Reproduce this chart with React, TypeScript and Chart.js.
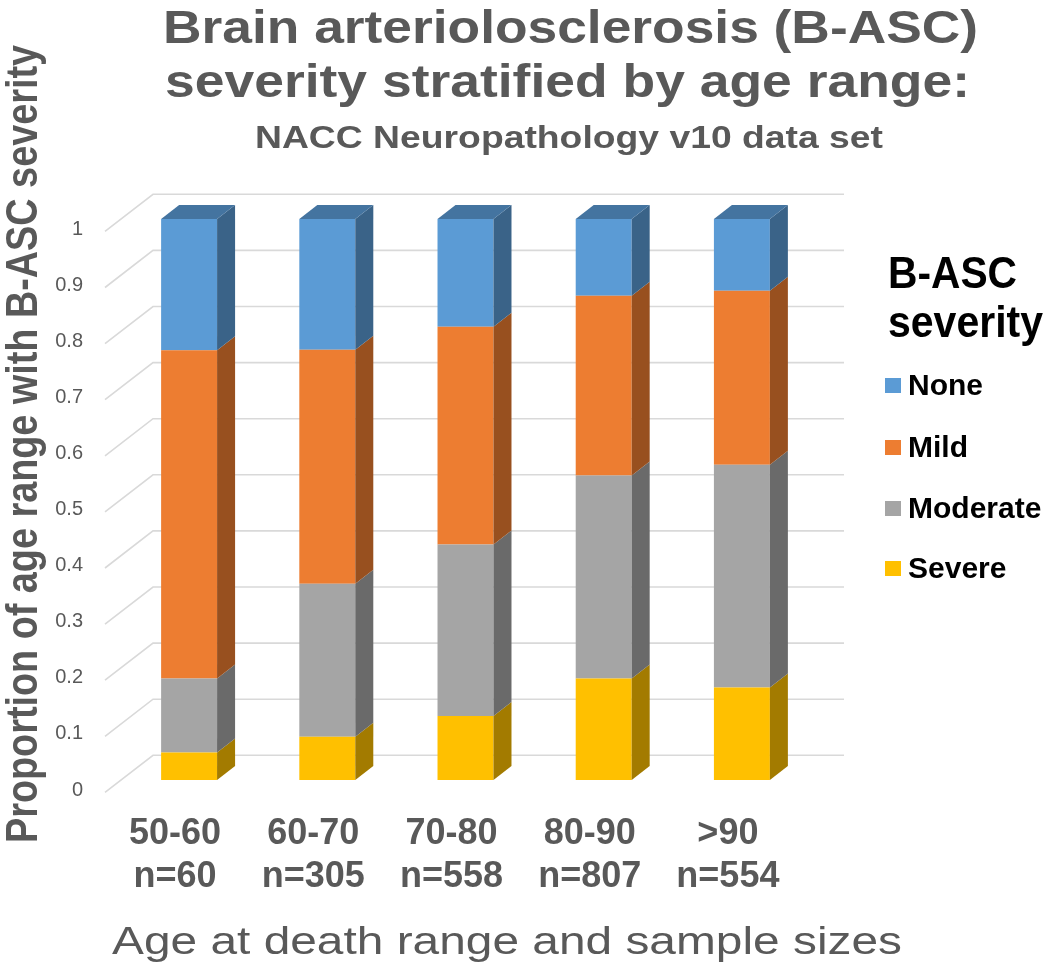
import React, { useEffect, useRef } from "react";
import { Chart, registerables } from "chart.js";

Chart.register(...registerables);

// ---------- data ----------
const ageRanges = ["50-60", "60-70", "70-80", "80-90", ">90"];
const sampleSizes = [60, 305, 558, 807, 554];
const severeValues = [0.049, 0.077, 0.114, 0.181, 0.165];
const moderateValues = [0.132, 0.273, 0.306, 0.362, 0.397];
const mildValues = [0.585, 0.417, 0.388, 0.32, 0.31];
const noneValues = [0.234, 0.233, 0.192, 0.137, 0.128];
const seriesNames = ["Severe", "Moderate", "Mild", "None"];
const yTickValues = [0, 0.1, 0.2, 0.3, 0.4, 0.5, 0.6, 0.7, 0.8, 0.9, 1];

const titleLines = [
  "Brain arteriolosclerosis (B-ASC)",
  "severity stratified by age range:",
  "NACC Neuropathology v10 data set",
];
const yAxisTitle = "Proportion of age range with B-ASC severity";
const xAxisTitle = "Age at death range and sample sizes";
const legendTitle = ["B-ASC", "severity"];

// ---------- styles ----------
const seriesColors = ["#FFC000", "#A5A5A5", "#ED7D31", "#5B9BD5"];
const TEXT_GREY = "#595959";
const FONT = "'Liberation Sans', Arial, sans-serif";

function shade(hex: string, f: number) {
  const n = parseInt(hex.slice(1), 16);
  const r = Math.round(((n >> 16) & 255) * f);
  const g = Math.round(((n >> 8) & 255) * f);
  const b = Math.round((n & 255) * f);
  return `rgb(${r},${g},${b})`;
}

function drawFit(
  ctx: CanvasRenderingContext2D,
  text: string,
  x: number,
  y: number,
  px: number,
  weight: string,
  width: number | null,
  align: CanvasTextAlign,
  color: string,
  rotate = 0
) {
  ctx.save();
  ctx.font = `${weight} ${px}px ${FONT}`;
  ctx.fillStyle = color;
  ctx.textAlign = align;
  ctx.textBaseline = "alphabetic";
  ctx.translate(x, y);
  if (rotate) ctx.rotate(rotate);
  if (width) {
    const m = ctx.measureText(text).width;
    ctx.scale(width / m, 1);
  }
  ctx.fillText(text, 0, 0);
  ctx.restore();
}

const DX = 18;
const DY = 14;

const depthPlugin = {
  id: "depth3d",
  beforeDatasetsDraw(chart: any) {
    const { ctx, chartArea } = chart;
    const y = chart.scales.y;
    ctx.save();
    ctx.strokeStyle = "#d9d9d9";
    ctx.lineWidth = 1.6;
    y.ticks.forEach((t: any) => {
      const py = y.getPixelForValue(t.value);
      ctx.beginPath();
      ctx.moveTo(chartArea.left - 15, py + 12.4);
      ctx.lineTo(chartArea.left + 33, py - 24.7);
      ctx.lineTo(chartArea.right + 33, py - 24.7);
      ctx.stroke();
    });
    ctx.restore();
  },
  afterDatasetsDraw(chart: any) {
    const { ctx } = chart;
    const n = chart.data.datasets.length;
    ctx.save();
    chart.data.datasets.forEach((ds: any, i: number) => {
      const meta = chart.getDatasetMeta(i);
      meta.data.forEach((bar: any) => {
        const { x, y, base, width } = bar.getProps(["x", "y", "base", "width"], true);
        const l = x - width / 2;
        const r = x + width / 2;
        const top = Math.min(y, base);
        const bot = Math.max(y, base);
        ctx.fillStyle = shade(ds.backgroundColor, 0.64);
        ctx.beginPath();
        ctx.moveTo(r, top);
        ctx.lineTo(r + DX, top - DY);
        ctx.lineTo(r + DX, bot - DY);
        ctx.lineTo(r, bot);
        ctx.closePath();
        ctx.fill();
        if (i === n - 1) {
          ctx.fillStyle = shade(ds.backgroundColor, 0.75);
          ctx.beginPath();
          ctx.moveTo(l, top);
          ctx.lineTo(l + DX, top - DY);
          ctx.lineTo(r + DX, top - DY);
          ctx.lineTo(r, top);
          ctx.closePath();
          ctx.fill();
        }
      });
    });
    ctx.restore();
  },
};

const textPlugin = {
  id: "texts",
  afterDraw(chart: any) {
    const { ctx } = chart;
    // Title
    drawFit(ctx, titleLines[0], 570.5, 43, 47, "bold", 815, "center", TEXT_GREY);
    drawFit(ctx, titleLines[1], 567.5, 97, 47, "bold", 805, "center", TEXT_GREY);
    drawFit(ctx, titleLines[2], 569, 148, 31, "bold", 628, "center", TEXT_GREY);
    // Axis titles
    drawFit(ctx, yAxisTitle, 37, 444, 44, "bold", 798, "center", TEXT_GREY, -Math.PI / 2);
    drawFit(ctx, xAxisTitle, 507, 954, 38, "normal", 790, "center", TEXT_GREY);
    // Legend
    drawFit(ctx, legendTitle[0], 888, 288, 44, "bold", 129, "left", "#000");
    drawFit(ctx, legendTitle[1], 888, 337, 44, "bold", 155, "left", "#000");
    const ds = chart.data.datasets;
    const rowBaselines = [395, 457, 518, 578];
    for (let k = 0; k < ds.length; k++) {
      const d = ds[ds.length - 1 - k];
      const base = rowBaselines[k];
      ctx.save();
      ctx.fillStyle = d.backgroundColor;
      ctx.fillRect(885, base - 17, 16, 15);
      ctx.restore();
      drawFit(ctx, d.label, 908, base, 30, "bold", null, "left", "#000");
    }
  },
};

export default function App() {
  const canvasRef = useRef<HTMLCanvasElement | null>(null);

  useEffect(() => {
    document.body.style.margin = "0";
    const canvas = canvasRef.current;
    if (!canvas) return;
    const valueSets = [severeValues, moderateValues, mildValues, noneValues];
    const chart = new Chart(canvas, {
      type: "bar",
      data: {
        labels: ageRanges.map((r, i) => [r, `n=${sampleSizes[i]}`]),
        datasets: seriesNames.map((name, i) => ({
          label: name,
          data: valueSets[i],
          backgroundColor: seriesColors[i],
          borderWidth: 0,
          barPercentage: 0.405,
          categoryPercentage: 1,
        })),
      },
      options: {
        responsive: false,
        animation: false,
        devicePixelRatio: 1,
        layout: { padding: { top: 219, right: 239, left: 0, bottom: 0 } },
        plugins: {
          legend: { display: false },
          title: { display: false },
          tooltip: { enabled: false },
        },
        scales: {
          x: {
            stacked: true,
            grid: { display: false, drawTicks: false },
            border: { display: false },
            ticks: {
              font: { family: FONT, size: 36, weight: "bold", lineHeight: 1.2 },
              color: TEXT_GREY,
              padding: 32,
              labelOffset: -14,
              maxRotation: 0,
              minRotation: 0,
              autoSkip: false,
            },
            afterFit: (s: any) => {
              s.height = 184;
            },
          },
          y: {
            stacked: true,
            min: 0,
            max: 1,
            grid: { display: false, drawTicks: false },
            border: { display: false },
            afterBuildTicks: (s: any) => {
              s.ticks = yTickValues.map((v) => ({ value: v }));
            },
            ticks: {
              font: { family: FONT, size: 20 },
              color: TEXT_GREY,
              padding: 37,
              labelOffset: 10,
              callback: (v: any) => String(Number(Number(v).toFixed(1))),
            },
            afterFit: (s: any) => {
              s.width = 120;
            },
          },
        },
      },
      plugins: [depthPlugin, textPlugin],
    });
    return () => chart.destroy();
  }, []);

  return (
    <div style={{ width: 1050, height: 964, background: "#fff" }}>
      <canvas ref={canvasRef} width={1050} height={964} />
    </div>
  );
}
